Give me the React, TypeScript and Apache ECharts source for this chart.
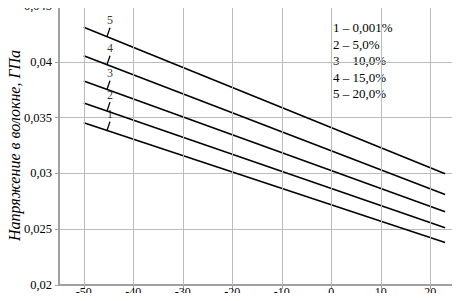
import React, { useEffect, useRef } from "react";
import * as echarts from "echarts";

const seriesNames = ["1", "2", "3", "4", "5"];
const legendTexts = ["1 – 0,001%", "2 – 5,0%", "3 – 10,0%", "4 – 15,0%", "5 – 20,0%"];
const xStart = -50;
const xEnd = 23;
const startValues = [0.03453, 0.03631, 0.03827, 0.04055, 0.0431];
const endValues = [0.0238, 0.02513, 0.02656, 0.0281, 0.02996];
const xTicks = [-50, -40, -30, -20, -10, 0, 10, 20];
const leaderX = -45.3;
const leaderDx = 0.6;
const leaderDy = 0.0008;

const fmt = (v: number) => String(+v.toFixed(4)).replace(".", ",");

export default function App() {
  const ref = useRef<HTMLDivElement>(null);
  useEffect(() => {
    const chart = echarts.init(ref.current!, null, { renderer: "svg" });
    const font = "Liberation Serif";
    const gridColor = "#bcbcbc";
    const axisColor = "#a0a0a0";
    const lineY = (i: number, x: number) =>
      startValues[i] + ((endValues[i] - startValues[i]) * (x - xStart)) / (xEnd - xStart);
    const lineSeries = seriesNames.map((n, i) => ({
      type: "line",
      name: n,
      data: [
        [xStart, startValues[i]],
        [xEnd, endValues[i]],
      ],
      symbol: "none",
      lineStyle: { color: "#000", width: 1.6 },
      z: 3,
      ...(i === 0
        ? {
            markLine: {
              silent: true,
              symbol: "none",
              label: { show: false },
              lineStyle: { color: gridColor, width: 1, type: "solid" },
              data: xTicks.map((v) => ({ xAxis: v })),
            },
          }
        : {}),
    }));
    const leaderSeries = seriesNames.map((n, i) => ({
      type: "line",
      name: "leader" + n,
      data: [
        [leaderX, lineY(i, leaderX)],
        [leaderX + leaderDx, lineY(i, leaderX) + leaderDy],
      ],
      symbol: "none",
      lineStyle: { color: "#000", width: 1.3 },
      z: 4,
    }));
    const labelSeries = {
      type: "scatter",
      name: "labels",
      data: seriesNames.map((n, i) => ({
        value: [leaderX + leaderDx, lineY(i, leaderX) + leaderDy],
        name: n,
      })),
      symbolSize: 1,
      itemStyle: { color: "rgba(0,0,0,0)" },
      label: {
        show: true,
        position: "top",
        distance: 1,
        formatter: "{b}",
        color: "#000",
        fontFamily: font,
        fontSize: 12,
      },
      labelLayout: { hideOverlap: false },
      z: 5,
    };
    chart.setOption({
      animation: false,
      grid: {
        left: 59,
        right: 5,
        top: 6,
        bottom: 16,
        containLabel: false,
        outerBoundsMode: "none",
      },
      xAxis: {
        type: "value",
        min: -55,
        max: 25,
        axisLine: { show: true, onZero: false, lineStyle: { color: axisColor, width: 2 } },
        axisTick: { show: true, length: 4, customValues: xTicks, lineStyle: { color: axisColor } },
        axisLabel: {
          customValues: xTicks,
          color: "#000",
          fontFamily: font,
          fontSize: 12,
          margin: 1,
        },
        splitLine: { show: false },
      },
      yAxis: {
        type: "value",
        min: 0.02,
        max: 0.045,
        interval: 0.005,
        name: "Напряжение в волокне, ГПа",
        nameLocation: "middle",
        nameGap: 37,
        nameMoveOverlap: false,
        nameTextStyle: {
          color: "#000",
          fontFamily: font,
          fontStyle: "italic",
          fontSize: 16,
        },
        axisLine: { show: true, onZero: false, lineStyle: { color: axisColor, width: 2 } },
        axisTick: { show: true, length: 4, lineStyle: { color: axisColor } },
        axisLabel: {
          formatter: fmt,
          color: "#000",
          fontFamily: font,
          fontSize: 12.5,
          margin: 7,
        },
        splitLine: { show: true, lineStyle: { color: gridColor, width: 1 } },
      },
      graphic: [
        {
          type: "rect",
          shape: { x: 59, y: 6, width: 396, height: 279 },
          style: { fill: "none", stroke: axisColor, lineWidth: 1.5 },
          silent: true,
        },
        ...legendTexts.map((t, i) => ({
          type: "text",
          x: 333,
          y: 21 + i * 16.5,
          style: { text: t, fill: "#000", fontFamily: font, fontSize: 13 },
        })),
      ],
      series: [...lineSeries, ...leaderSeries, labelSeries],
    });
    return () => chart.dispose();
  }, []);
  return <div ref={ref} style={{ width: 460, height: 301, margin: -8 }} />;
}
